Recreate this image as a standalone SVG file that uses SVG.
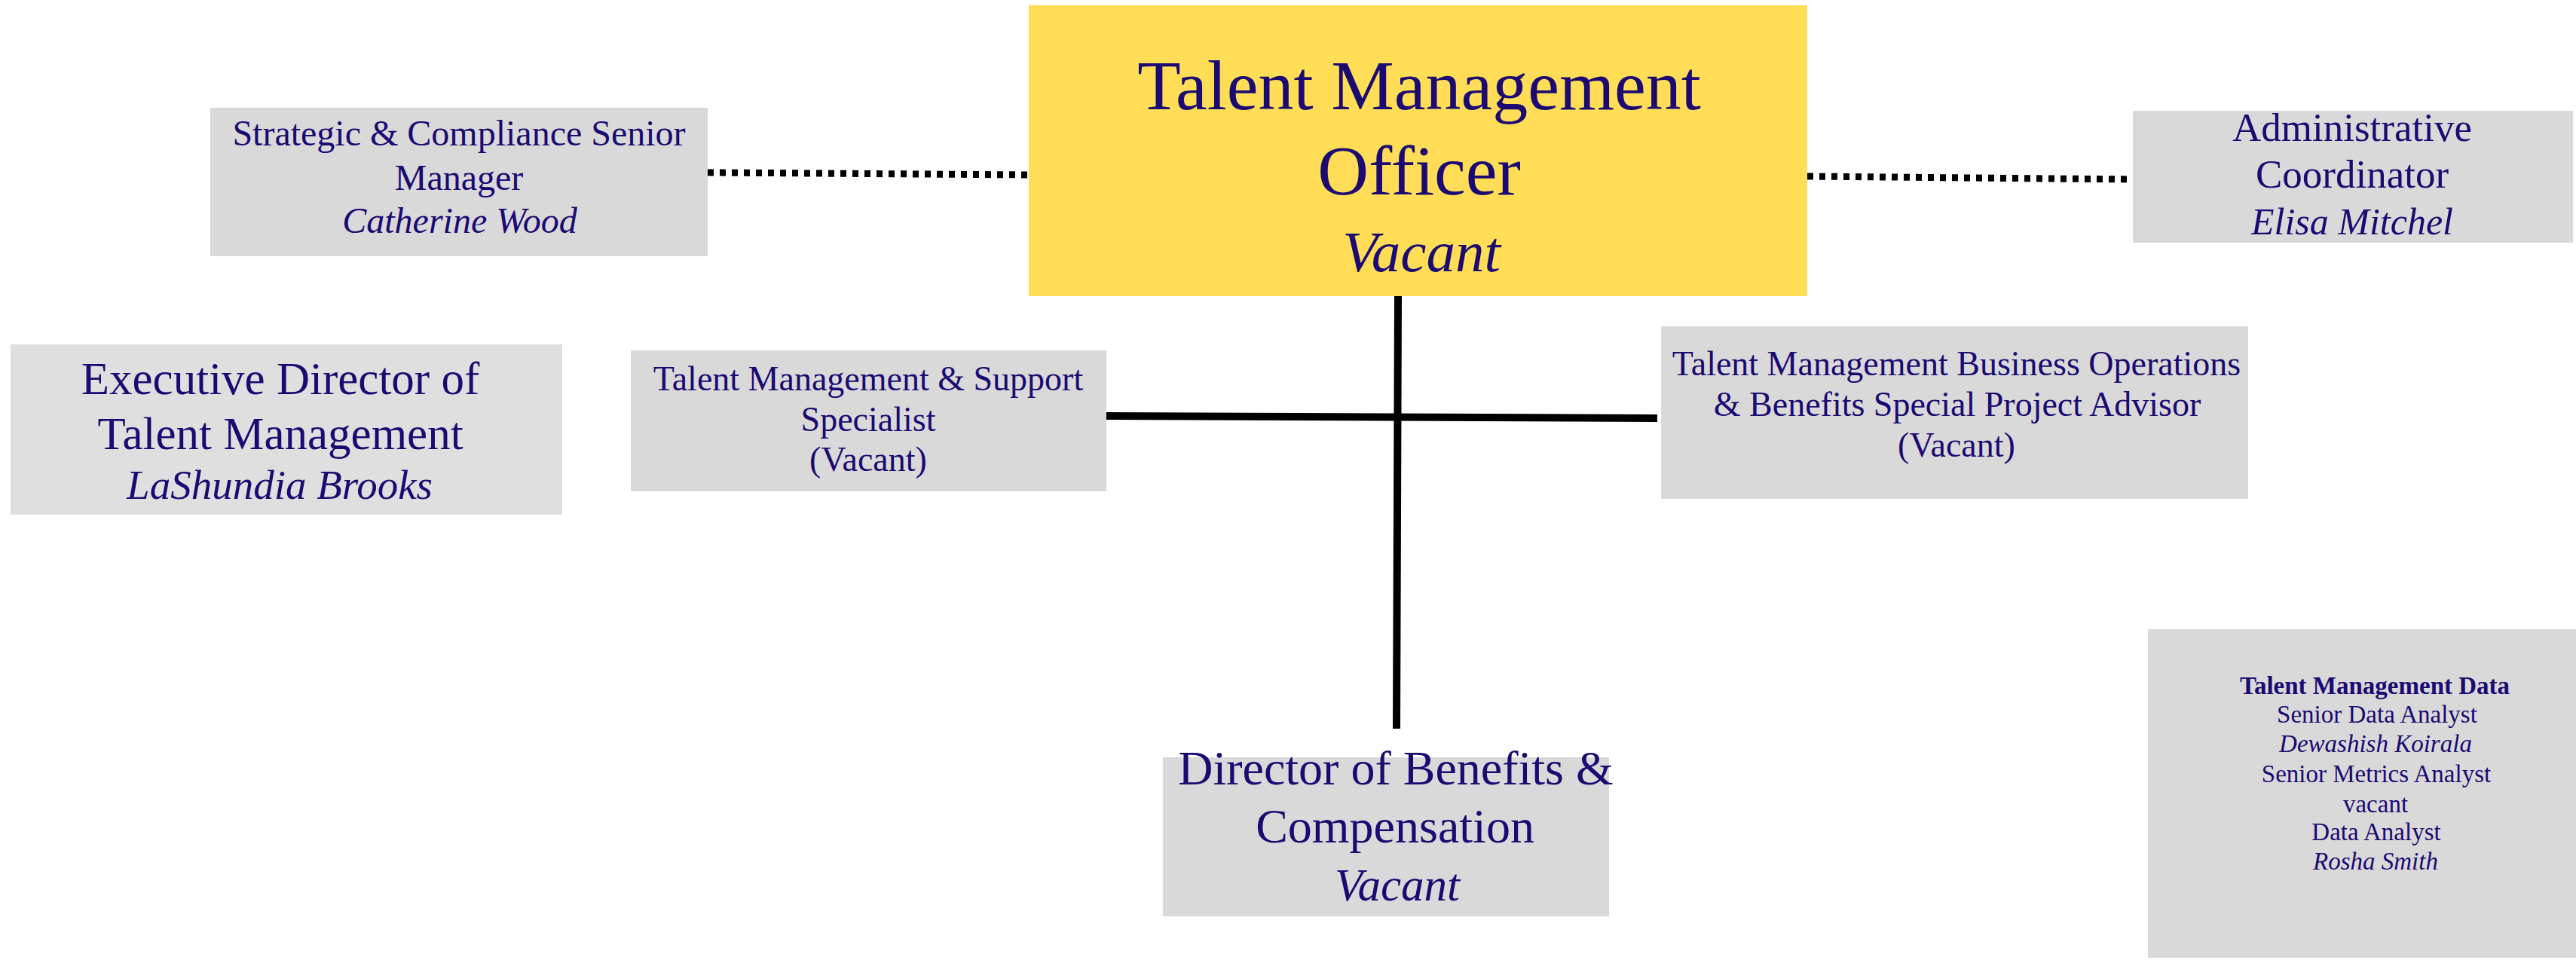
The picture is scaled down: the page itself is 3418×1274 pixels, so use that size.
<svg xmlns="http://www.w3.org/2000/svg" width="3418" height="1274" viewBox="0 0 3418 1274">
<style>
  .box { fill: #d9d9d9; }
  .lt { fill: #dfdfdf; }
  .top { fill: #ffdd57; }
  text { font-family: "Liberation Serif", "Times New Roman", serif; fill: #1b0a72; text-anchor: middle; }
  .it { font-style: italic; }
  .b { font-weight: bold; }
  .solid { stroke: #000; stroke-width: 10; fill: none; }
  .dot { stroke: #000; stroke-width: 9; fill: none; stroke-dasharray: 8 8; }
</style>
<rect x="0" y="0" width="3418" height="1274" fill="#ffffff"/>
<g id="connectors">
  <line class="dot" x1="939" y1="229" x2="1365" y2="232"/>
  <line class="dot" x1="2398" y1="234" x2="2828" y2="238"/>
  <line class="solid" x1="1855" y1="393" x2="1853" y2="967"/>
  <line class="solid" x1="1468" y1="552" x2="2199" y2="555"/>
</g>
<g id="talent-management-officer">
  <rect class="top" x="1365" y="7" width="1033" height="386"/>
  <text x="1883" y="145" font-size="94">Talent Management</text>
  <text x="1883" y="258" font-size="94">Officer</text>
  <text class="it" x="1886" y="360" font-size="77">Vacant</text>
</g>
<g id="strategic-compliance">
  <rect class="box" x="279" y="143" width="660" height="197"/>
  <text x="609" y="193" font-size="48">Strategic &amp; Compliance Senior</text>
  <text x="609" y="252" font-size="48">Manager</text>
  <text class="it" x="610" y="309" font-size="48">Catherine Wood</text>
</g>
<g id="administrative-coordinator">
  <rect class="box" x="2830" y="147" width="584" height="175"/>
  <text x="3121" y="187" font-size="53">Administrative</text>
  <text x="3121" y="249" font-size="53">Coordinator</text>
  <text class="it" x="3121" y="311" font-size="50">Elisa Mitchel</text>
</g>
<g id="executive-director">
  <rect class="lt" x="14" y="457" width="732" height="226"/>
  <text x="372" y="523" font-size="61">Executive Director of</text>
  <text x="372" y="596" font-size="61">Talent Management</text>
  <text class="it" x="371" y="662" font-size="55">LaShundia Brooks</text>
</g>
<g id="support-specialist">
  <rect class="box" x="837" y="465" width="631" height="187"/>
  <text x="1152" y="518" font-size="46">Talent Management &amp; Support</text>
  <text x="1152" y="572" font-size="46">Specialist</text>
  <text x="1152" y="625" font-size="46">(Vacant)</text>
</g>
<g id="business-operations">
  <rect class="box" x="2204" y="433" width="779" height="229"/>
  <text x="2596" y="498" font-size="46">Talent Management Business Operations</text>
  <text x="2597" y="552" font-size="46">&amp; Benefits Special Project Advisor</text>
  <text x="2596" y="606" font-size="46">(Vacant)</text>
</g>
<g id="director-benefits">
  <rect class="box" x="1543" y="1005" width="592" height="211"/>
  <text x="1852" y="1041" font-size="64">Director of Benefits &amp;</text>
  <text x="1851" y="1118" font-size="64">Compensation</text>
  <text class="it" x="1854" y="1195" font-size="61">Vacant</text>
</g>
<g id="talent-management-data">
  <rect class="box" x="2850" y="835" width="568" height="436"/>
  <text class="b" x="3151" y="921" font-size="33">Talent Management Data</text>
  <text x="3154" y="959" font-size="33">Senior Data Analyst</text>
  <text class="it" x="3152" y="998" font-size="33">Dewashish Koirala</text>
  <text x="3153" y="1038" font-size="33">Senior Metrics Analyst</text>
  <text x="3152" y="1078" font-size="33">vacant</text>
  <text x="3153" y="1115" font-size="33">Data Analyst</text>
  <text class="it" x="3152" y="1154" font-size="33">Rosha Smith</text>
</g>
</svg>
